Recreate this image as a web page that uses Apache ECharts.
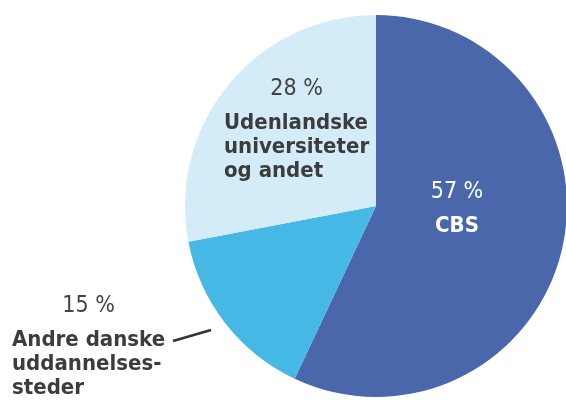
<!DOCTYPE html>
<html>
<head>
<meta charset="utf-8">
<script src="https://cdn.jsdelivr.net/npm/echarts@6/dist/echarts.min.js"></script>
<style>
  html, body { margin: 0; padding: 0; background: #fff; }
  #chart { width: 566px; height: 400px; }
</style>
</head>
<body>
<div id="chart"></div>
<script>
// data
const categories = ['CBS', 'Andre danske\nuddannelses-\nsteder', 'Udenlandske\nuniversiteter\nog andet'];
const shares = [57, 15, 28];
const colors = ['#4a67ac', '#46b8e6', '#d3ecf8'];

const narrow = '"Liberation Sans Narrow", "DejaVu Sans Condensed", sans-serif';

// where each label block sits (left/top of block)
const labelSpots = [
  { x: 457, y: 170, align: 'center' },
  { x: 12, y: 284, align: 'left' },
  { x: 224, y: 67, align: 'left' }
];

const richFor = (txtColor, boldColor, boldAlign) => ({
  p: { color: txtColor, fontFamily: narrow, fontSize: 23, lineHeight: 44, align: 'center' },
  b: { color: boldColor, fontFamily: narrow, fontSize: 22, fontWeight: 'bold', lineHeight: 24, align: boldAlign }
});

const myChart = echarts.init(document.getElementById('chart'));

const option = {
  animation: false,
  series: [
    {
      type: 'pie',
      center: [376, 206],
      radius: 191,
      startAngle: 90,
      clockwise: true,
      silent: true,
      emphasis: { disabled: true },
      label: {
        show: true,
        position: 'inside',
        overflow: 'none',
        formatter: (p) => {
          let lines = p.name.split('\n').map(l => '{b|' + l + '}').join('\n');
          return '{p|' + p.value + ' %}\n' + lines;
        }
      },
      labelLine: { show: false },
      labelLayout: (params) => {
        const s = labelSpots[params.dataIndex];
        let res = { x: s.x, y: s.y, align: s.align, verticalAlign: 'top' };
        if (params.dataIndex === 1) {
          res.labelLinePoints = [[211, 330], [192, 335.5], [173, 341]];
        }
        return res;
      },
      data: categories.map((c, i) => {
        let item = {
          name: c,
          value: shares[i],
          itemStyle: { color: colors[i] }
        };
        if (i === 0) {
          item.label = { rich: richFor('#fff', '#fff', 'center') };
        } else if (i === 1) {
          item.label = {
            position: 'outside',
            overflow: 'none',
            alignTo: 'none',
            rich: richFor('#444', '#3c3c3c', 'left')
          };
          item.labelLine = { show: true, lineStyle: { color: '#333', width: 2.5 } };
        } else {
          item.label = { rich: richFor('#444', '#3c3c3c', 'left') };
        }
        return item;
      })
    }
  ]
};

myChart.setOption(option);
</script>
</body>
</html>
